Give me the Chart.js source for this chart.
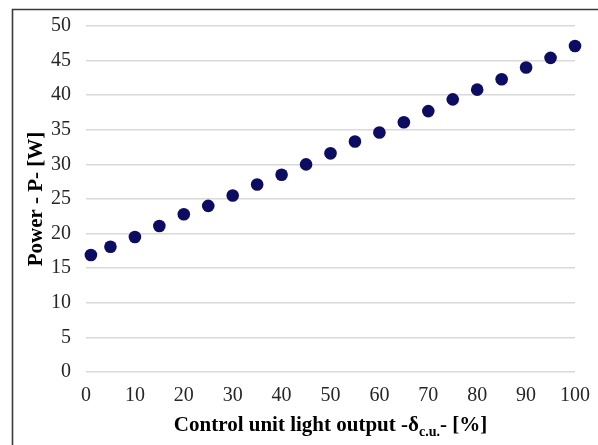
<!DOCTYPE html>
<html>
<head>
<meta charset="utf-8">
<script src="https://cdn.jsdelivr.net/npm/chart.js@4/dist/chart.umd.min.js"></script>
<style>
  html, body { margin: 0; padding: 0; background: #ffffff; }
  #wrap { position: relative; width: 598px; height: 445px; }
</style>
</head>
<body>
<div id="wrap"><canvas id="chart" width="598" height="445"></canvas></div>
<script>
// Light output setting of the control unit [%]
const lightOutput = [1, 5, 10, 15, 20, 25, 30, 35, 40, 45, 50, 55, 60, 65, 70, 75, 80, 85, 90, 95, 100];
// Measured power draw [W]
const powerW = [16.9, 18.1, 19.5, 21.1, 22.8, 24.0, 25.5, 27.1, 28.5, 30.0, 31.6, 33.3, 34.6, 36.1, 37.7, 39.4, 40.8, 42.3, 44.0, 45.4, 47.1];

const xTicks = [0, 10, 20, 30, 40, 50, 60, 70, 80, 90, 100];
const yTicks = [0, 5, 10, 15, 20, 25, 30, 35, 40, 45, 50];

const yTitle = 'Power - P- [W]';
const xTitleParts = ['Control unit light output -\u03B4', 'c.u.', '- [%]'];

const SERIF = '"Liberation Serif", "Times New Roman", serif';

// Frame and axis titles (the x title carries a subscript)
const decorations = {
  id: 'decorations',
  beforeDraw(chart) {
    const ctx = chart.ctx;
    ctx.save();
    ctx.fillStyle = '#ffffff';
    ctx.fillRect(0, 0, chart.width, chart.height);
    ctx.strokeStyle = '#3a3a3a';
    ctx.lineWidth = 1.6;
    ctx.beginPath();
    ctx.moveTo(12.5, chart.height);
    ctx.lineTo(12.5, 9.5);
    ctx.lineTo(chart.width, 9.5);
    ctx.stroke();
    ctx.restore();
  },
  afterDraw(chart) {
    const ctx = chart.ctx;
    const area = chart.chartArea;
    ctx.save();
    ctx.fillStyle = '#000000';
    ctx.textBaseline = 'alphabetic';

    // y title, rotated
    ctx.save();
    ctx.translate(42, (area.top + area.bottom) / 2);
    ctx.rotate(-Math.PI / 2);
    ctx.font = 'bold 21px ' + SERIF;
    ctx.textAlign = 'center';
    ctx.fillText(yTitle, 0, 0);
    ctx.restore();

    // x title with subscript
    const mainFont = 'bold 21px ' + SERIF;
    const subFont = 'bold 14px ' + SERIF;
    ctx.font = mainFont;
    const w0 = ctx.measureText(xTitleParts[0]).width;
    const w2 = ctx.measureText(xTitleParts[2]).width;
    ctx.font = subFont;
    const w1 = ctx.measureText(xTitleParts[1]).width;
    const total = w0 + w1 + w2;
    let x = (area.left + area.right) / 2 - total / 2;
    const baseline = 431;
    ctx.textAlign = 'left';
    ctx.font = mainFont;
    ctx.fillText(xTitleParts[0], x, baseline);
    x += w0;
    ctx.font = subFont;
    ctx.fillText(xTitleParts[1], x, baseline + 5);
    x += w1;
    ctx.font = mainFont;
    ctx.fillText(xTitleParts[2], x, baseline);
    ctx.restore();
  }
};

new Chart(document.getElementById('chart'), {
  type: 'scatter',
  data: {
    datasets: [{
      data: lightOutput.map((v, i) => ({ x: v, y: powerW[i] })),
      backgroundColor: '#0c0c62',
      borderColor: '#0c0c62',
      borderWidth: 0,
      pointRadius: 6.3,
      pointHoverRadius: 6.3,
      clip: false
    }]
  },
  options: {
    responsive: false,
    animation: false,
    devicePixelRatio: 1,
    layout: { padding: { left: 0, top: 26, right: 23, bottom: 0 } },
    plugins: {
      legend: { display: false },
      tooltip: { enabled: false },
      title: { display: false }
    },
    scales: {
      x: {
        type: 'linear',
        min: 0,
        max: 100,
        afterBuildTicks(scale) { scale.ticks = xTicks.map(v => ({ value: v })); },
        afterFit(scale) {
          scale.height = 445 - 372;
          scale.paddingLeft = 0;
          scale.paddingRight = 0;
        },
        grid: { display: false, drawTicks: false },
        border: { display: false },
        ticks: {
          padding: 12,
          color: '#262626',
          font: { family: SERIF, size: 20 }
        }
      },
      y: {
        type: 'linear',
        min: 0,
        max: 50,
        afterBuildTicks(scale) { scale.ticks = yTicks.map(v => ({ value: v })); },
        afterFit(scale) {
          scale.width = 86;
          scale.paddingTop = 0;
          scale.paddingBottom = 0;
        },
        grid: { color: '#d9d9d9', lineWidth: 1.5, drawTicks: false },
        border: { display: false },
        ticks: {
          padding: 15,
          color: '#262626',
          font: { family: SERIF, size: 20 }
        }
      }
    }
  },
  plugins: [decorations]
});
</script>
</body>
</html>
